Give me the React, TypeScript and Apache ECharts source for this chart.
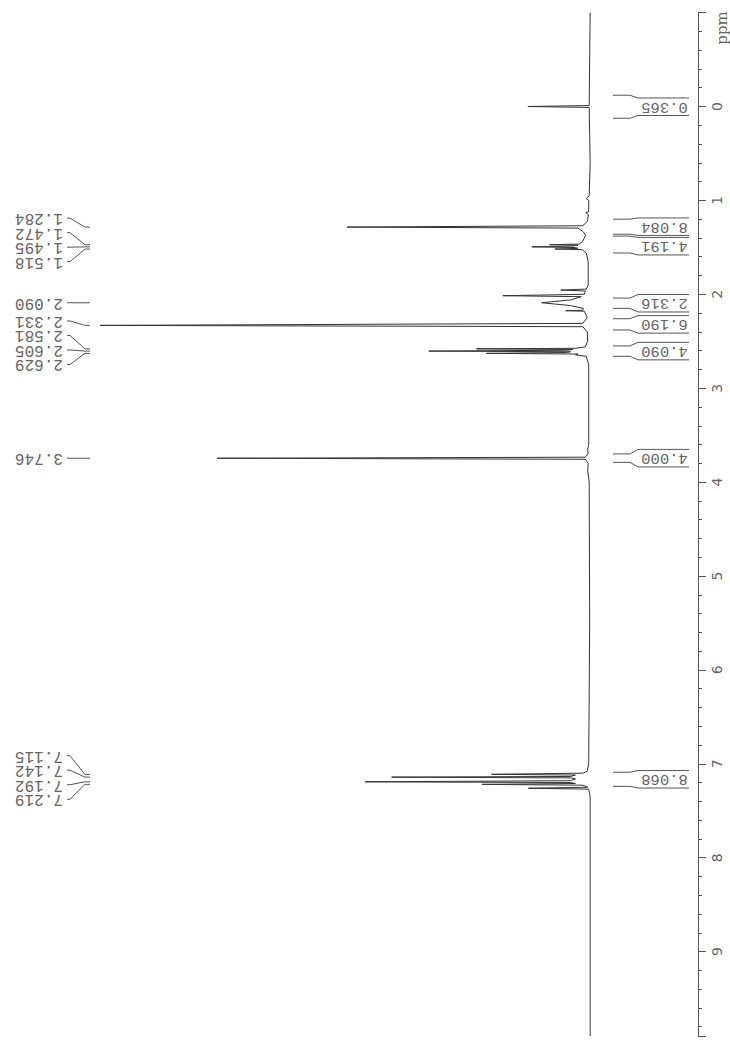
import React, { useEffect, useRef } from "react";
import * as echarts from "echarts";

// ---- spectrum trace (ppm, relative intensity) ----
const SPEC_PPM = [
  -1.0, -0.01, 0.0, 0.01, 0.6, 0.95, 0.98, 1.0, 1.12, 1.13, 1.15, 1.22, 1.27, 1.284, 1.295,
  1.33, 1.37, 1.4, 1.44, 1.465, 1.472, 1.478, 1.487, 1.495, 1.502, 1.511, 1.518, 1.525, 1.56,
  1.65, 1.9, 1.945, 1.955, 1.965, 2.0, 2.015, 2.025, 2.06, 2.09, 2.12, 2.15, 2.17, 2.175, 2.18,
  2.25, 2.31, 2.331, 2.345, 2.4, 2.5, 2.56, 2.575, 2.581, 2.588, 2.596, 2.605, 2.612, 2.62,
  2.629, 2.636, 2.645, 2.66, 2.75, 3.6, 3.65, 3.7, 3.735, 3.746, 3.757, 3.8, 3.88, 4.0, 5.5,
  7.0, 7.08, 7.1, 7.112, 7.12, 7.135, 7.142, 7.15, 7.16, 7.18, 7.192, 7.2, 7.21, 7.219, 7.228,
  7.25, 7.26, 7.27, 7.35, 9.9,
];
const SPEC_INT = [
  0, 0.2, 12.7, 0.2, 0, 0.2, 0.8, 0.3, 0.3, 0.9, 0.4, 0.5, 1.5, 49.6, 2.5,
  1.5, 0.9, 1.2, 1.6, 2.2, 8.3, 2.5, 4.0, 11.9, 3.0, 2.5, 7.2, 1.6, 0.8,
  0.4, 0.4, 0.8, 6.0, 1.0, 1.2, 17.8, 1.8, 4.0, 9.9, 4.0, 1.4, 1.5, 5.0, 1.2,
  0.6, 1.5, 100, 1.5, 0.6, 0.5, 1.0, 3.0, 23.2, 3.5, 5.0, 32.9, 4.0, 5.0,
  21.2, 2.5, 3.0, 0.8, 0.3, 0.3, 0.5, 0.4, 1.0, 76.1, 1.0, 0.4, 0.5, 0.2, 0.1,
  0.3, 0.6, 1.5, 20.1, 3.0, 4.0, 40.5, 4.0, 3.0, 4.0, 45.9, 4.0, 3.0, 22.1, 1.5,
  0.5, 12.6, 0.3, 0, 0,
];

// ---- peak picking labels ----
const PEAK_LABELS = [
  "1.284", "1.472", "1.495", "1.518", "2.090", "2.331", "2.581", "2.605", "2.629",
  "3.746", "7.115", "7.142", "7.192", "7.219",
];

// ---- integrals ----
const INTEGRAL_VALUES = ["0.365", "8.084", "4.191", "2.316", "6.190", "4.090", "4.000", "8.068"];
const INTEGRAL_FROM = [-0.12, 1.2, 1.38, 2.04, 2.26, 2.55, 3.7, 7.09];
const INTEGRAL_TO = [0.125, 1.36, 1.56, 2.15, 2.38, 2.66, 3.79, 7.24];

// ---- axis ----
const PPM_MIN = -1;
const PPM_MAX = 9.9;
const INT_MIN = -22;
const INT_MAX = 100;

const GRAY = "#555";
const MONO = "'Liberation Mono', 'DejaVu Sans Mono', monospace";

function layoutLabels(ideal: number[], spacing: number, groupShift: number): number[] {
  let clusters = ideal.map((y, i) => ({ ids: [i], center: y }));
  let changed = true;
  while (changed) {
    changed = false;
    for (let k = 0; k < clusters.length - 1; k++) {
      const a = clusters[k];
      const b = clusters[k + 1];
      const aBottom = a.center + ((a.ids.length - 1) / 2) * spacing;
      const bTop = b.center - ((b.ids.length - 1) / 2) * spacing;
      if (bTop - aBottom < spacing) {
        const ids = [...a.ids, ...b.ids];
        const center = ids.reduce((s, i) => s + ideal[i], 0) / ids.length;
        clusters.splice(k, 2, { ids, center });
        changed = true;
        break;
      }
    }
  }
  const out: number[] = new Array(ideal.length);
  clusters.forEach((c) => {
    const shift = c.ids.length > 1 ? groupShift : 0;
    c.ids.forEach((id, j) => {
      out[id] = c.center + shift + (j - (c.ids.length - 1) / 2) * spacing;
    });
  });
  return out;
}

export default function App() {
  const ref = useRef<HTMLDivElement>(null);
  useEffect(() => {
    const chart = echarts.init(ref.current!, null, { renderer: "svg" });
    const peakPpm = PEAK_LABELS.map((s) => parseFloat(s));

    const option: any = {
      animation: false,
      backgroundColor: "#fff",
      grid: { left: 100, right: 32, top: 12.6, bottom: 5.9 },
      xAxis: {
        type: "value",
        min: INT_MIN,
        max: INT_MAX,
        inverse: true,
        show: false,
      },
      yAxis: {
        type: "value",
        position: "right",
        inverse: true,
        min: PPM_MIN,
        max: PPM_MAX,
        interval: 1,
        axisLine: { show: true, onZero: false, lineStyle: { color: GRAY, width: 1 } },
        axisTick: { show: true, length: 8, lineStyle: { color: GRAY } },
        minorTick: { show: true, splitNumber: 5, length: 4, lineStyle: { color: GRAY } },
        splitLine: { show: false },
        axisLabel: {
          rotate: 90,
          margin: 12,
          fontSize: 14,
          color: "#666",
          showMaxLabel: false,
          fontFamily: "'DejaVu Sans', sans-serif",
          formatter: (v: number) =>
            v === PPM_MIN || Math.abs(v - Math.round(v)) > 1e-6 ? "" : String(Math.round(v)),
        },
      },
      graphic: [
        {
          type: "text",
          x: 722,
          y: 28,
          rotation: Math.PI / 2,
          style: {
            text: "ppm",
            fontSize: 15,
            fill: "#666",
            fontFamily: "'DejaVu Serif', serif",
            textAlign: "center",
            textVerticalAlign: "middle",
          },
        },
      ],
      series: [
        {
          type: "line",
          data: SPEC_PPM.map((p, i) => [SPEC_INT[i], p]),
          showSymbol: false,
          clip: false,
          lineStyle: { color: "#333", width: 1 },
          silent: true,
        },
        {
          type: "custom",
          silent: true,
          clip: false,
          data: [[0, 0]],
          renderItem: (params: any, api: any) => {
            const children: any[] = [];
            const axisX = api.coord([INT_MIN, 0])[0];
            // integrals
            const BOX_H = 17.5;
            const GAP = 2;
            let prevBottom = -Infinity;
            const x0 = axisX - 85;
            const x1 = axisX - 68;
            const x2 = axisX - 60;
            const x3 = axisX - 9;
            INTEGRAL_VALUES.forEach((val, i) => {
              const y1 = api.coord([0, INTEGRAL_FROM[i]])[1];
              const y2 = api.coord([0, INTEGRAL_TO[i]])[1];
              let bt = (y1 + y2) / 2 - BOX_H / 2;
              if (bt < prevBottom + GAP) bt = prevBottom + GAP;
              const bb = bt + BOX_H;
              prevBottom = bb;
              children.push({
                type: "polyline",
                shape: { points: [[x0, y1], [x1, y1], [x2, bt], [x3, bt]] },
                style: { stroke: GRAY, lineWidth: 1, fill: null },
              });
              children.push({
                type: "polyline",
                shape: { points: [[x0, y2], [x1, y2], [x2, bb], [x3, bb]] },
                style: { stroke: GRAY, lineWidth: 1, fill: null },
              });
              children.push({
                type: "text",
                x: (x2 + x3) / 2 + 1,
                y: (bt + bb) / 2,
                rotation: Math.PI,
                style: {
                  text: val,
                  fontSize: 15.5,
                  fontFamily: MONO,
                  fill: "#666",
                  textAlign: "center",
                  textVerticalAlign: "middle",
                },
              });
            });
            // peak labels
            const ideal = peakPpm.map((p) => api.coord([0, p])[1]);
            const ly = layoutLabels(ideal, 14.5, -2);
            peakPpm.forEach((p, i) => {
              const py = ideal[i];
              children.push({
                type: "polyline",
                shape: { points: [[67, ly[i]], [70, ly[i]], [85, py], [90, py]] },
                style: { stroke: GRAY, lineWidth: 1, fill: null },
              });
              children.push({
                type: "text",
                x: 39,
                y: ly[i],
                rotation: Math.PI,
                style: {
                  text: PEAK_LABELS[i],
                  fontSize: 16,
                  fontFamily: MONO,
                  fill: "#666",
                  textAlign: "center",
                  textVerticalAlign: "middle",
                },
              });
            });
            return { type: "group", children };
          },
        },
      ],
    };
    chart.setOption(option);
    return () => chart.dispose();
  }, []);
  return (
    <div
      ref={ref}
      style={{ position: "fixed", left: 0, top: 0, width: 730, height: 1042, background: "#fff" }}
    />
  );
}
